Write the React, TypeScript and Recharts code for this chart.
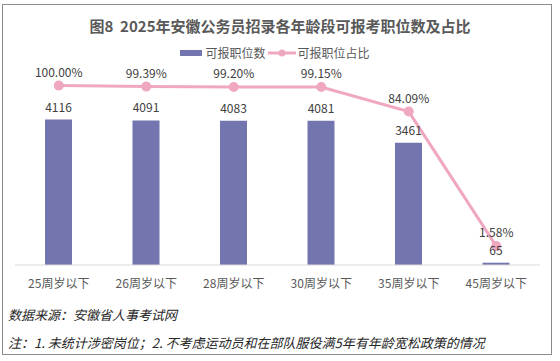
import { ComposedChart, Bar, Line, XAxis, YAxis, LabelList } from "recharts";

const ageGroups = ["25周岁以下", "26周岁以下", "28周岁以下", "30周岁以下", "35周岁以下", "45周岁以下"];
const positionCounts = [4116, 4091, 4083, 4081, 3461, 65];
const positionShares = [1.0, 0.9939, 0.992, 0.9915, 0.8409, 0.0158];

const data = ageGroups.map((name, i) => ({
  name,
  count: positionCounts[i],
  share: positionShares[i],
}));

const BAR_COLOR = "#7375AE";
const LINE_COLOR = "#F0A8C0";
const FONT = "'Noto Sans CJK SC', 'Noto Sans', sans-serif";

function LegendRow() {
  return (
    <div style={{ position: "absolute", left: 0, top: 44, width: 560, display: "flex", justifyContent: "center", alignItems: "center", fontSize: 12, color: "#595959", fontFamily: FONT, paddingRight: 10, boxSizing: "border-box" }}>
      <span style={{ display: "inline-block", width: 22, height: 6, background: BAR_COLOR, marginRight: 3 }} />
      <span style={{ marginRight: 2 }}>可报职位数</span>
      <svg width={28} height={10} style={{ marginRight: 2 }}>
        <line x1={0} y1={5} x2={28} y2={5} stroke={LINE_COLOR} strokeWidth={3} />
        <circle cx={14} cy={5} r={3.5} fill={LINE_COLOR} />
      </svg>
      <span>可报职位占比</span>
    </div>
  );
}

export default function App() {
  return (
    <div style={{ position: "absolute", left: 0, top: 0, width: 560, height: 361, background: "#fff", fontFamily: FONT }}>
      <div style={{ position: "absolute", left: 2, top: 4, width: 550, height: 351, border: "1px solid #8c8c8c", boxSizing: "border-box" }} />
      <div style={{ position: "absolute", left: 0, top: 15, width: 560, textAlign: "center", fontSize: 15, fontWeight: 700, color: "#595959", whiteSpace: "pre" }}>
        {"图8  2025年安徽公务员招录各年龄段可报考职位数及占比"}
      </div>
      <LegendRow />
      <ComposedChart width={560} height={361} data={data} margin={{ top: 53, right: 20, bottom: 66, left: 15 }} style={{ position: "absolute", left: 0, top: 0 }}>
        <XAxis
          dataKey="name"
          height={30}
          tickLine={false}
          axisLine={{ stroke: "#d9d9d9" }}
          tick={{ fill: "#595959", fontSize: 12, fontFamily: FONT }}
          interval={0}
          tickMargin={8}
        />
        <YAxis yAxisId="left" hide domain={[0, 6000]} />
        <YAxis yAxisId="right" hide domain={[-0.1, 1.2]} orientation="right" />
        <Bar yAxisId="left" dataKey="count" fill={BAR_COLOR} barSize={27} isAnimationActive={false}>
          <LabelList dataKey="count" position="top" offset={8} fill="#404040" fontSize={12} fontFamily={FONT} />
        </Bar>
        <Line
          yAxisId="right"
          dataKey="share"
          stroke={LINE_COLOR}
          strokeWidth={3}
          dot={{ r: 3.5, fill: LINE_COLOR, stroke: LINE_COLOR }}
          isAnimationActive={false}
        >
          <LabelList
            dataKey="share"
            position="top"
            offset={9}
            fill="#404040"
            fontSize={12}
            fontFamily={FONT}
            formatter={(v: any) => (Number(v) * 100).toFixed(2) + "%"}
          />
        </Line>
      </ComposedChart>
      <div style={{ position: "absolute", left: 8, top: 305, fontSize: 13, fontStyle: "italic", color: "#262626" }}>
        数据来源：安徽省人事考试网
      </div>
      <div style={{ position: "absolute", left: 8, top: 333, fontSize: 13, fontStyle: "italic", color: "#262626" }}>
        注：1. 未统计涉密岗位；2. 不考虑运动员和在部队服役满5年有年龄宽松政策的情况
      </div>
    </div>
  );
}
